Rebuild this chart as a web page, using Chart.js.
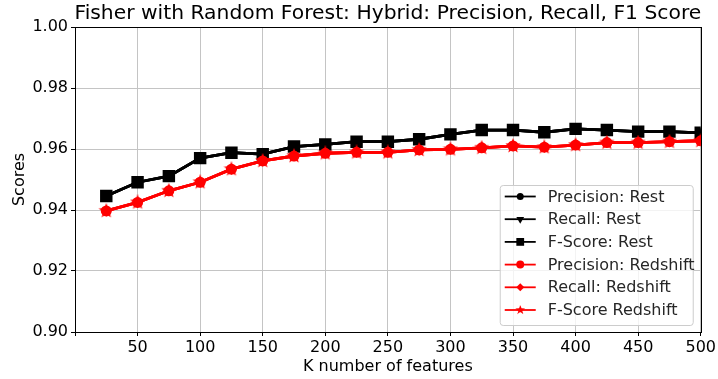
<!DOCTYPE html>
<html>
<head>
<meta charset="utf-8">
<script src="https://cdn.jsdelivr.net/npm/chart.js@4/dist/chart.umd.min.js"></script>
<style>
  html, body { margin: 0; padding: 0; background: #fff; }
  #wrap { width: 718px; height: 379px; position: relative; }
</style>
</head>
<body>
<div id="wrap"><canvas id="c" width="718" height="379"></canvas></div>
<script>
// K (number of selected features) and the scores for each target
const kFeatures = [25, 50, 75, 100, 125, 150, 175, 200, 225, 250, 275, 300, 325, 350, 375, 400, 425, 450, 475, 500];

const restPrecision = [0.9446, 0.9491, 0.9511, 0.9570, 0.9588, 0.9583, 0.9608, 0.9615, 0.9624, 0.9624, 0.9632, 0.9648, 0.9662, 0.9662, 0.9655, 0.9666, 0.9662, 0.9657, 0.9657, 0.9653];
const restRecall    = [0.9446, 0.9491, 0.9511, 0.9570, 0.9588, 0.9583, 0.9608, 0.9615, 0.9624, 0.9624, 0.9632, 0.9648, 0.9662, 0.9662, 0.9655, 0.9666, 0.9662, 0.9657, 0.9657, 0.9653];
const restFScore    = [0.9446, 0.9491, 0.9511, 0.9570, 0.9588, 0.9583, 0.9608, 0.9615, 0.9624, 0.9624, 0.9632, 0.9648, 0.9662, 0.9662, 0.9655, 0.9666, 0.9662, 0.9657, 0.9657, 0.9653];

const redshiftPrecision = [0.9397, 0.9425, 0.9463, 0.9491, 0.9534, 0.9561, 0.9577, 0.9586, 0.9589, 0.9589, 0.9597, 0.9599, 0.9604, 0.9610, 0.9606, 0.9613, 0.9621, 0.9621, 0.9624, 0.9627];
const redshiftRecall    = [0.9397, 0.9425, 0.9463, 0.9491, 0.9534, 0.9561, 0.9577, 0.9586, 0.9589, 0.9589, 0.9597, 0.9599, 0.9604, 0.9610, 0.9606, 0.9613, 0.9621, 0.9621, 0.9624, 0.9627];
const redshiftFScore    = [0.9397, 0.9425, 0.9463, 0.9491, 0.9534, 0.9561, 0.9577, 0.9586, 0.9589, 0.9589, 0.9597, 0.9599, 0.9604, 0.9610, 0.9606, 0.9613, 0.9621, 0.9621, 0.9624, 0.9627];

const xTickValues = [0, 50, 100, 150, 200, 250, 300, 350, 400, 450, 500];
const yTickValues = [0.90, 0.92, 0.94, 0.96, 0.98, 1.00];

const TITLE = 'Fisher with Random Forest: Hybrid: Precision, Recall, F1 Score';
const FONT = "'DejaVu Sans', sans-serif";

// filled five-pointed star marker
function makeStar(size, color) {
  const cv = document.createElement('canvas');
  cv.width = size; cv.height = size;
  const g = cv.getContext('2d');
  const cx = size / 2, cy = size / 2, ro = size / 2, ri = ro * 0.42;
  g.beginPath();
  for (let i = 0; i < 10; i++) {
    const r = i % 2 === 0 ? ro : ri;
    const a = -Math.PI / 2 + i * Math.PI / 5;
    const px = cx + r * Math.cos(a), py = cy + r * Math.sin(a);
    if (i === 0) g.moveTo(px, py); else g.lineTo(px, py);
  }
  g.closePath();
  g.fillStyle = color;
  g.fill();
  return cv;
}
const redStar = makeStar(16, '#ff0000');

function pts(ys) { return kFeatures.map((k, i) => ({ x: k, y: ys[i] })); }

function series(label, ys, color, style, radius, rotation, order, legendRadius) {
  return {
    label, data: pts(ys), order,
    borderColor: color, backgroundColor: color,
    borderWidth: 2.8,
    pointStyle: style, pointRadius: radius, pointHoverRadius: radius,
    pointRotation: rotation, pointBorderWidth: 0,
    pointBackgroundColor: color, pointBorderColor: color,
    tension: 0, fill: false,
    legendRadius
  };
}

const datasets = [
  series('Precision: Rest', restPrecision, '#000000', 'circle', 4.5, 0, 6, 3.5),
  series('Recall: Rest', restRecall, '#000000', 'triangle', 6, 180, 5, 4.5),
  series('F-Score: Rest', restFScore, '#000000', 'rect', 8.8, 0, 4, 5.5),
  series('Precision: Redshift', redshiftPrecision, '#ff0000', 'circle', 5.5, 0, 3, 4),
  series('Recall: Redshift', redshiftRecall, '#ff0000', 'rectRot', 5.5, 0, 2, 4),
  series('F-Score Redshift', redshiftFScore, '#ff0000', redStar, 8, 0, 1, 4.5)
];

// title centred over the plot area
const titlePlugin = {
  id: 'plotTitle',
  afterDraw(chart) {
    const { ctx, chartArea: a } = chart;
    ctx.save();
    ctx.font = '20.3px ' + FONT;
    ctx.fillStyle = '#000';
    ctx.textAlign = 'center';
    ctx.textBaseline = 'middle';
    ctx.fillText(TITLE, (a.left + a.right) / 2, 14);
    ctx.restore();
  }
};

// full frame around the plot area
const framePlugin = {
  id: 'frame',
  afterDatasetsDraw(chart) {
    const { ctx, chartArea: a } = chart;
    ctx.save();
    ctx.strokeStyle = '#000';
    ctx.lineWidth = 1;
    ctx.strokeRect(Math.round(a.left) + 0.5, Math.round(a.top) + 0.5,
                   Math.round(a.right - a.left), Math.round(a.bottom - a.top));
    ctx.restore();
  }
};

// legend box in the lower right corner of the plot
const legendPlugin = {
  id: 'boxLegend',
  afterDraw(chart) {
    const { ctx, chartArea: a } = chart;
    const sets = chart.data.datasets;
    const rowH = 22.7;
    const boxW = 193, boxH = 140;
    const bx = a.right - 8 - boxW, by = a.bottom - 7 - boxH;
    ctx.save();
    ctx.beginPath();
    ctx.roundRect(bx + 0.5, by + 0.5, boxW, boxH, 3);
    ctx.fillStyle = 'rgba(255,255,255,0.8)';
    ctx.fill();
    ctx.strokeStyle = '#cccccc';
    ctx.lineWidth = 1;
    ctx.stroke();
    ctx.font = '16px ' + FONT;
    ctx.textBaseline = 'middle';
    ctx.textAlign = 'left';
    sets.forEach((ds, i) => {
      const cy = by + 11.5 + i * rowH;
      const x0 = bx + 5, x1 = bx + 36, xm = (x0 + x1) / 2;
      ctx.strokeStyle = ds.borderColor;
      ctx.lineWidth = 1.8;
      ctx.beginPath(); ctx.moveTo(x0, cy); ctx.lineTo(x1, cy); ctx.stroke();
      ctx.fillStyle = ds.pointBackgroundColor;
      if (ds.pointStyle instanceof HTMLCanvasElement) {
        const s = ds.legendRadius * 2.2;
        ctx.drawImage(ds.pointStyle, xm - s / 2, cy - s / 2, s, s);
      } else {
        Chart.helpers.drawPoint(ctx, {
          pointStyle: ds.pointStyle, radius: ds.legendRadius,
          rotation: ds.pointRotation, borderWidth: 0
        }, xm, cy);
      }
      ctx.fillStyle = '#262626';
      ctx.fillText(ds.label, bx + 48, cy + 1);
    });
    ctx.restore();
  }
};

new Chart(document.getElementById('c'), {
  type: 'line',
  data: { datasets },
  plugins: [framePlugin, legendPlugin, titlePlugin],
  options: {
    responsive: false,
    animation: false,
    events: [],
    layout: { padding: { left: 0, right: 15, top: 27, bottom: 0 } },
    plugins: {
      legend: { display: false },
      tooltip: { enabled: false },
      title: { display: false }
    },
    scales: {
      x: {
        type: 'linear',
        min: 0, max: 500,
        afterBuildTicks(s) { s.ticks = xTickValues.map(v => ({ value: v })); },
        afterFit(s) { s.height = 47; },
        ticks: {
          color: '#000',
          font: { family: FONT, size: 16 },
          padding: 2,
          maxRotation: 0,
          autoSkip: false,
          callback: v => (v === 0 ? '' : String(v))
        },
        grid: { color: '#c4c4c4', lineWidth: 1, tickLength: 4, tickColor: '#000' },
        border: { display: false },
        title: {
          display: true, text: 'K number of features', color: '#000',
          font: { family: FONT, size: 16 }, padding: { top: 0, bottom: 3 }
        }
      },
      y: {
        min: 0.9, max: 1.0,
        afterBuildTicks(s) { s.ticks = yTickValues.map(v => ({ value: v })); },
        afterFit(s) { s.width = 75; },
        ticks: {
          color: '#000',
          font: { family: FONT, size: 16 },
          padding: 3,
          autoSkip: false,
          callback: v => Number(v).toFixed(2)
        },
        grid: { color: '#c4c4c4', lineWidth: 1, tickLength: 4, tickColor: '#000' },
        border: { display: false },
        title: {
          display: true, text: 'Scores', color: '#000',
          font: { family: FONT, size: 16 }, padding: { top: 10, bottom: 0 }
        }
      }
    }
  }
});
</script>
</body>
</html>
